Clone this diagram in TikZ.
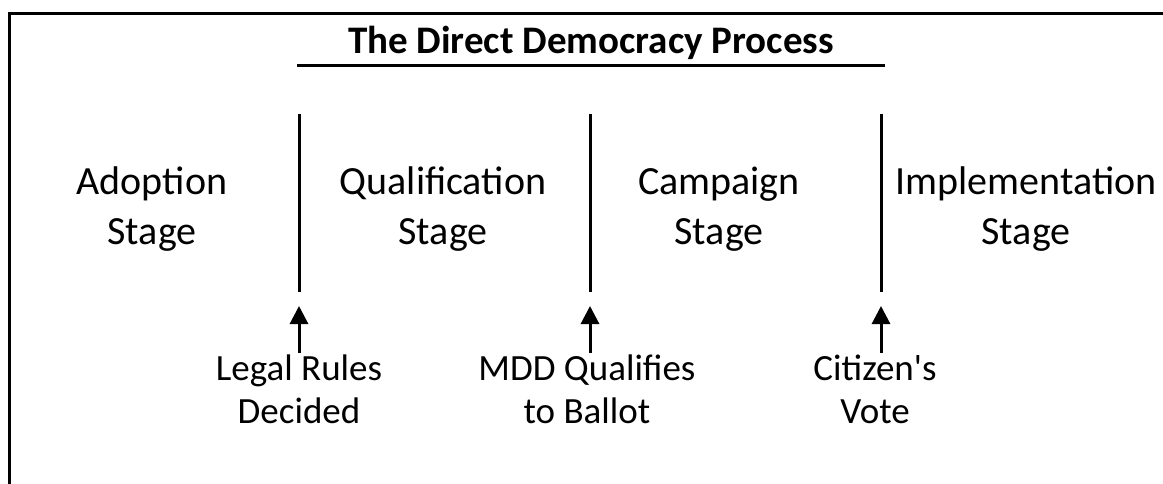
\documentclass[tikz,border=0pt]{standalone}
\usepackage{fontspec}
\setmainfont{Carlito}
\usetikzlibrary{arrows.meta}
\tikzset{
  stagelabel/.style={align=center, inner sep=0pt, font=\fontsize{40}{50}\selectfont},
  eventlabel/.style={align=center, inner sep=0pt, anchor=north, font=\fontsize{37}{43}\selectfont},
  titlelabel/.style={inner sep=0pt, font=\fontsize{39}{40}\selectfont\bfseries},
  rule/.style={line width=3pt},
  divider/.style={line width=3pt},
  pointer/.style={line width=3pt, -{Triangle[width=18pt,length=18pt]}}
}
\begin{document}
\begin{tikzpicture}[x=1pt,y=-1pt]
\useasboundingbox (0,0) rectangle (1163,484);
% frame (top and left edges)
\coordinate (fbl) at (9,486);
\coordinate (ftl) at (9,13.5);
\coordinate (ftr) at (1165,13.5);
\draw[rule] (fbl) -- (ftl) -- (ftr);
% title
\node[titlelabel] (title) at (591,43) {The Direct Democracy Process};
\coordinate (ul1) at (297,66);
\coordinate (ul2) at (885,66);
\draw[rule] (ul1) -- (ul2);
% dividers
\coordinate (d1t) at (299,114); \coordinate (d1b) at (299,292);
\coordinate (d2t) at (590,114); \coordinate (d2b) at (590,292);
\coordinate (d3t) at (881,114); \coordinate (d3b) at (881,292);
\draw[divider] (d1t) -- (d1b);
\draw[divider] (d2t) -- (d2b);
\draw[divider] (d3t) -- (d3b);
% stages
\node[stagelabel] (adopt) at (152,209) {Adoption\\Stage};
\node[stagelabel] (qual) at (443,209) {Qualification\\Stage};
\node[stagelabel] (camp) at (719,209) {Campaign\\Stage};
\node[stagelabel] (impl) at (1026,209) {Implementation\\Stage};
% events
\node[eventlabel] (ev1) at (299,355) {Legal Rules\\Decided};
\node[eventlabel] (ev2) at (587,355) {MDD Qualifies\\to Ballot};
\node[eventlabel] (ev3) at (875,355) {Citizen\textquotesingle s\\Vote};
\coordinate (a1s) at (299,353); \coordinate (a1e) at (299,306);
\coordinate (a2s) at (590,353); \coordinate (a2e) at (590,306);
\coordinate (a3s) at (881,353); \coordinate (a3e) at (881,306);
\draw[pointer] (a1s) -- (a1e);
\draw[pointer] (a2s) -- (a2e);
\draw[pointer] (a3s) -- (a3e);
\end{tikzpicture}
\end{document}
